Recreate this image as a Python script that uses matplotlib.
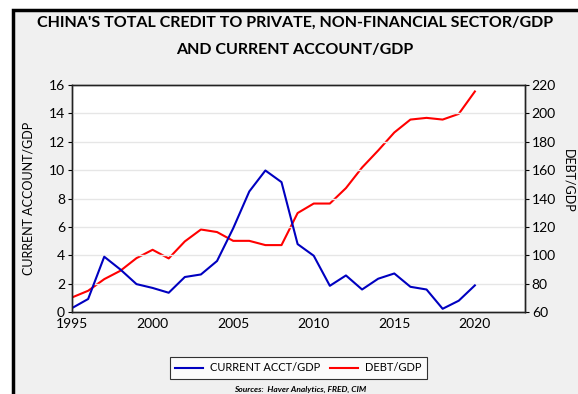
import matplotlib
matplotlib.use("Agg")
import matplotlib.pyplot as plt
from matplotlib.patches import Rectangle

plt.rcParams["font.family"] = ["Lato", "DejaVu Sans"]

years = list(range(1995, 2021))
current_acct = [0.28, 0.92, 3.9, 3.0, 1.97, 1.7, 1.36, 2.47, 2.65, 3.6,
                5.9, 8.5, 9.98, 9.16, 4.79, 3.97, 1.85, 2.58, 1.59, 2.35,
                2.72, 1.78, 1.59, 0.23, 0.8, 1.88]
debt_gdp = [70.3, 75.0, 83.2, 89.1, 98.0, 103.9, 97.8, 109.8, 118.2, 116.4,
            110.2, 110.2, 107.2, 107.2, 129.8, 136.5, 136.5, 147.4, 161.9, 173.9,
            186.6, 195.7, 196.9, 195.7, 199.7, 215.5]
x_ticks = [1995, 2000, 2005, 2010, 2015, 2020]
left_ticks = [0, 2, 4, 6, 8, 10, 12, 14, 16]
right_ticks = [60, 80, 100, 120, 140, 160, 180, 200, 220]

fig = plt.figure(figsize=(5.78, 3.94), dpi=100)
fig.patch.set_facecolor("white")
# grey panel with black frame (right/bottom edges fall outside the image)
fig.patches.append(Rectangle((0.0225, -0.2), 1.2, 1.1746, transform=fig.transFigure,
                             facecolor="#f0f0f0", edgecolor="black", linewidth=2.5, zorder=-10))

ax = fig.add_axes([0.1246, 0.208, 0.7834, 0.576])
ax2 = ax.twinx()
ax.set_zorder(ax2.get_zorder() + 1)
ax.patch.set_visible(False)
ax2.patch.set_facecolor("white")
ax2.patch.set_visible(True)

l1, = ax.plot(years, current_acct, color="#0000c0", linewidth=1.5, label="CURRENT ACCT/GDP")
l2, = ax2.plot(years, debt_gdp, color="#ff0000", linewidth=1.5, label="DEBT/GDP")

ax.set_xlim(1995, 2023.1)
ax.set_ylim(0, 16)
ax2.set_ylim(60, 220)
ax.set_xticks(x_ticks)
ax.set_yticks(left_ticks)
ax2.set_yticks(right_ticks)
ax.grid(axis="y", color="#e6e6e6", linewidth=1.0)
ax.tick_params(axis="x", length=0, labelsize=10, pad=4)
ax.tick_params(axis="y", length=3, labelsize=10, pad=2)
ax2.tick_params(axis="y", length=3, labelsize=10, pad=2)
for a in (ax, ax2):
    for s in a.spines.values():
        s.set_linewidth(1.0)
        s.set_color("#222222")

ax.set_ylabel("CURRENT ACCOUNT/GDP", fontsize=9, labelpad=10)
fig.text(0.984, 0.54, "DEBT/GDP", rotation=-90, fontsize=9, ha="center", va="center")

fig.text(0.51, 0.942, "CHINA'S TOTAL CREDIT TO PRIVATE, NON-FINANCIAL SECTOR/GDP",
         fontsize=11.5, fontweight="bold", ha="center", va="center")
fig.text(0.51, 0.873, "AND CURRENT ACCOUNT/GDP",
         fontsize=11.5, fontweight="bold", ha="center", va="center")

leg = fig.legend(handles=[l1, l2], loc="center", bbox_to_anchor=(0.516, 0.066),
                 ncol=2, fontsize=8, frameon=True, fancybox=False,
                 edgecolor="black", handlelength=2.5, columnspacing=0.9,
                 borderpad=0.5, handletextpad=0.6)
leg.get_frame().set_linewidth(0.8)

fig.text(0.52, 0.012, "Sources:  Haver Analytics, FRED, CIM", fontsize=6,
         fontweight="bold", style="italic", ha="center", va="center")

fig.savefig("out.png", dpi=100)
